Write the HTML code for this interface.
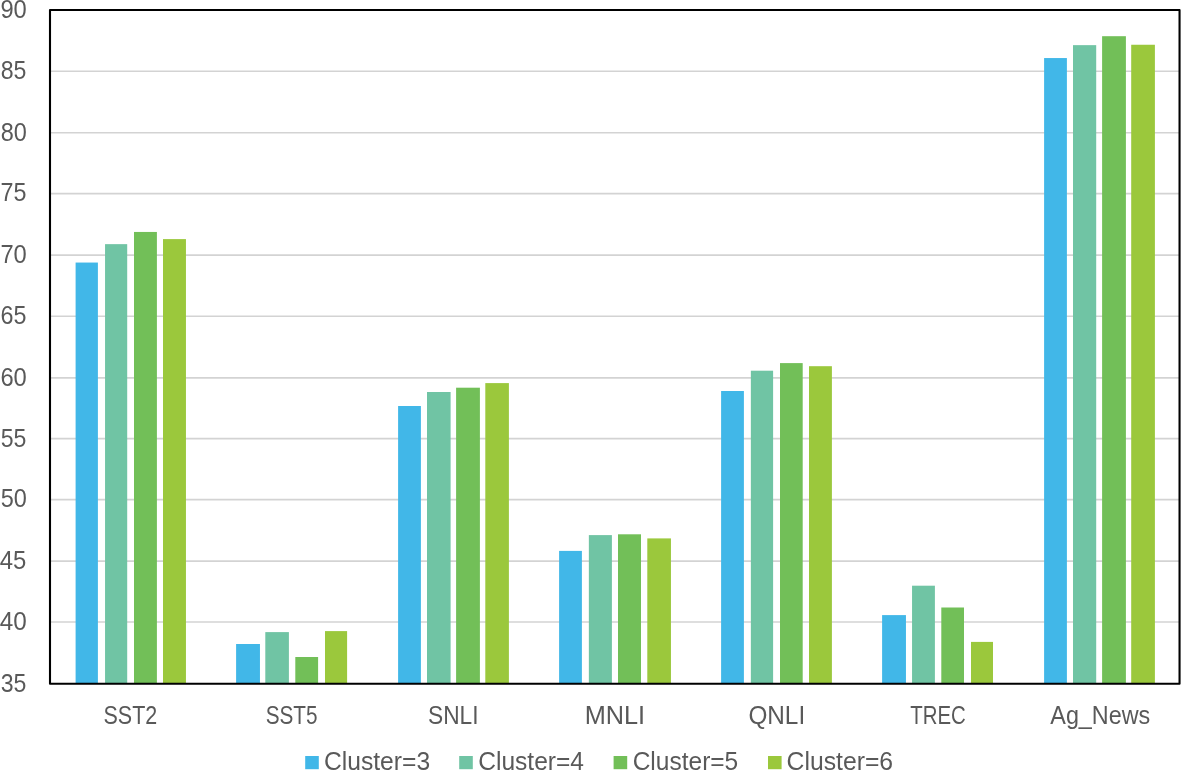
<!DOCTYPE html>
<html lang="en">
<head>
<meta charset="utf-8">
<title>Cluster comparison chart</title>
<style>
html,body{margin:0;padding:0;background:#fff;}
body{width:1181px;height:771px;overflow:hidden;}
svg{display:block;}
text{font-family:"Liberation Sans",sans-serif;font-size:25px;fill:#595959;}
</style>
</head>
<body>
<svg width="1181" height="771" viewBox="0 0 1181 771">
<rect x="0" y="0" width="1181" height="771" fill="#ffffff"/>

<g stroke="#d3d3d3" stroke-width="1.6">
<line x1="50.0" y1="622.00" x2="1179.5" y2="622.00"/>
<line x1="50.0" y1="561.10" x2="1179.5" y2="561.10"/>
<line x1="50.0" y1="499.65" x2="1179.5" y2="499.65"/>
<line x1="50.0" y1="438.65" x2="1179.5" y2="438.65"/>
<line x1="50.0" y1="377.85" x2="1179.5" y2="377.85"/>
<line x1="50.0" y1="316.25" x2="1179.5" y2="316.25"/>
<line x1="50.0" y1="255.10" x2="1179.5" y2="255.10"/>
<line x1="50.0" y1="193.60" x2="1179.5" y2="193.60"/>
<line x1="50.0" y1="132.70" x2="1179.5" y2="132.70"/>
<line x1="50.0" y1="71.27" x2="1179.5" y2="71.27"/>
</g>
<g>
<rect x="75.60" y="262.55" width="22.30" height="421.25" fill="#41b7e8"/>
<rect x="105.05" y="244.15" width="22.15" height="439.65" fill="#70c4a4"/>
<rect x="134.00" y="231.95" width="22.90" height="451.85" fill="#72bf58"/>
<rect x="163.00" y="239.10" width="22.95" height="444.70" fill="#9bc83c"/>
</g>
<g>
<rect x="236.10" y="644.00" width="23.85" height="39.80" fill="#41b7e8"/>
<rect x="265.30" y="632.10" width="23.60" height="51.70" fill="#70c4a4"/>
<rect x="295.30" y="657.00" width="22.80" height="26.80" fill="#72bf58"/>
<rect x="325.00" y="631.10" width="22.10" height="52.70" fill="#9bc83c"/>
</g>
<g>
<rect x="398.10" y="406.00" width="22.80" height="277.80" fill="#41b7e8"/>
<rect x="427.00" y="392.00" width="23.60" height="291.80" fill="#70c4a4"/>
<rect x="456.10" y="387.70" width="23.80" height="296.10" fill="#72bf58"/>
<rect x="485.30" y="383.10" width="23.60" height="300.70" fill="#9bc83c"/>
</g>
<g>
<rect x="559.10" y="550.90" width="22.80" height="132.90" fill="#41b7e8"/>
<rect x="588.85" y="535.10" width="23.05" height="148.70" fill="#70c4a4"/>
<rect x="618.00" y="534.30" width="23.00" height="149.50" fill="#72bf58"/>
<rect x="647.30" y="538.40" width="23.65" height="145.40" fill="#9bc83c"/>
</g>
<g>
<rect x="721.10" y="391.00" width="22.80" height="292.80" fill="#41b7e8"/>
<rect x="750.85" y="370.70" width="22.25" height="313.10" fill="#70c4a4"/>
<rect x="780.00" y="363.10" width="22.70" height="320.70" fill="#72bf58"/>
<rect x="809.00" y="366.20" width="22.90" height="317.60" fill="#9bc83c"/>
</g>
<g>
<rect x="882.10" y="615.10" width="23.85" height="68.70" fill="#41b7e8"/>
<rect x="912.05" y="585.70" width="22.85" height="98.10" fill="#70c4a4"/>
<rect x="941.30" y="607.50" width="22.70" height="76.30" fill="#72bf58"/>
<rect x="971.00" y="641.90" width="22.00" height="41.90" fill="#9bc83c"/>
</g>
<g>
<rect x="1044.10" y="58.05" width="22.80" height="625.75" fill="#41b7e8"/>
<rect x="1073.00" y="45.15" width="23.20" height="638.65" fill="#70c4a4"/>
<rect x="1102.10" y="36.20" width="23.80" height="647.60" fill="#72bf58"/>
<rect x="1131.20" y="44.75" width="23.70" height="639.05" fill="#9bc83c"/>
</g>
<rect x="50.00" y="10.00" width="1129.55" height="673.80" fill="none" stroke="#000" stroke-width="2.1" stroke-linejoin="round"/>
<g>
<text transform="translate(0.68 692.40) scale(0.9243 1.000)">35</text>
<text transform="translate(-0.19 629.80) scale(0.9714 1.000)">40</text>
<text transform="translate(-0.18 568.90) scale(0.9562 1.000)">45</text>
<text transform="translate(0.66 507.45) scale(0.9398 1.000)">50</text>
<text transform="translate(0.68 446.80) scale(0.9243 1.000)">55</text>
<text transform="translate(0.41 385.65) scale(0.9490 1.000)">60</text>
<text transform="translate(0.43 324.05) scale(0.9333 1.000)">65</text>
<text transform="translate(0.41 262.70) scale(0.9490 1.000)">70</text>
<text transform="translate(0.43 201.40) scale(0.9333 1.000)">75</text>
<text transform="translate(0.66 140.50) scale(0.9398 1.000)">80</text>
<text transform="translate(0.68 79.07) scale(0.9243 1.000)">85</text>
<text transform="translate(0.41 17.80) scale(0.9490 1.000)">90</text>
</g>
<g>
<text transform="translate(103.52 724.00) scale(0.8600 1.000)">SST2</text>
<text transform="translate(265.66 724.00) scale(0.8299 1.000)">SST5</text>
<text transform="translate(428.06 724.00) scale(0.9096 1.000)">SNLI</text>
<text transform="translate(584.67 724.00) scale(1.0126 1.000)">MNLI</text>
<text transform="translate(748.38 724.00) scale(0.9735 1.000)">QNLI</text>
<text transform="translate(910.19 724.00) scale(0.8165 1.000)">TREC</text>
<text transform="translate(1050.30 724.00) scale(0.9349 1.000)">Ag_News</text>
</g>
<g>
<rect x="305.2" y="756" width="13.6" height="13.2" fill="#41b7e8"/>
<text transform="translate(323.97 770.10) scale(0.9862 1.000)">Cluster=3</text>
<rect x="459.2" y="756" width="13.6" height="13.2" fill="#70c4a4"/>
<text transform="translate(478.17 770.10) scale(0.9835 1.000)">Cluster=4</text>
<rect x="613.6" y="756" width="13.6" height="13.2" fill="#72bf58"/>
<text transform="translate(632.67 770.10) scale(0.9810 1.000)">Cluster=5</text>
<rect x="768.0" y="756" width="13.6" height="13.2" fill="#9bc83c"/>
<text transform="translate(786.56 770.10) scale(0.9900 1.000)">Cluster=6</text>
</g>
</svg>
</body>
</html>
